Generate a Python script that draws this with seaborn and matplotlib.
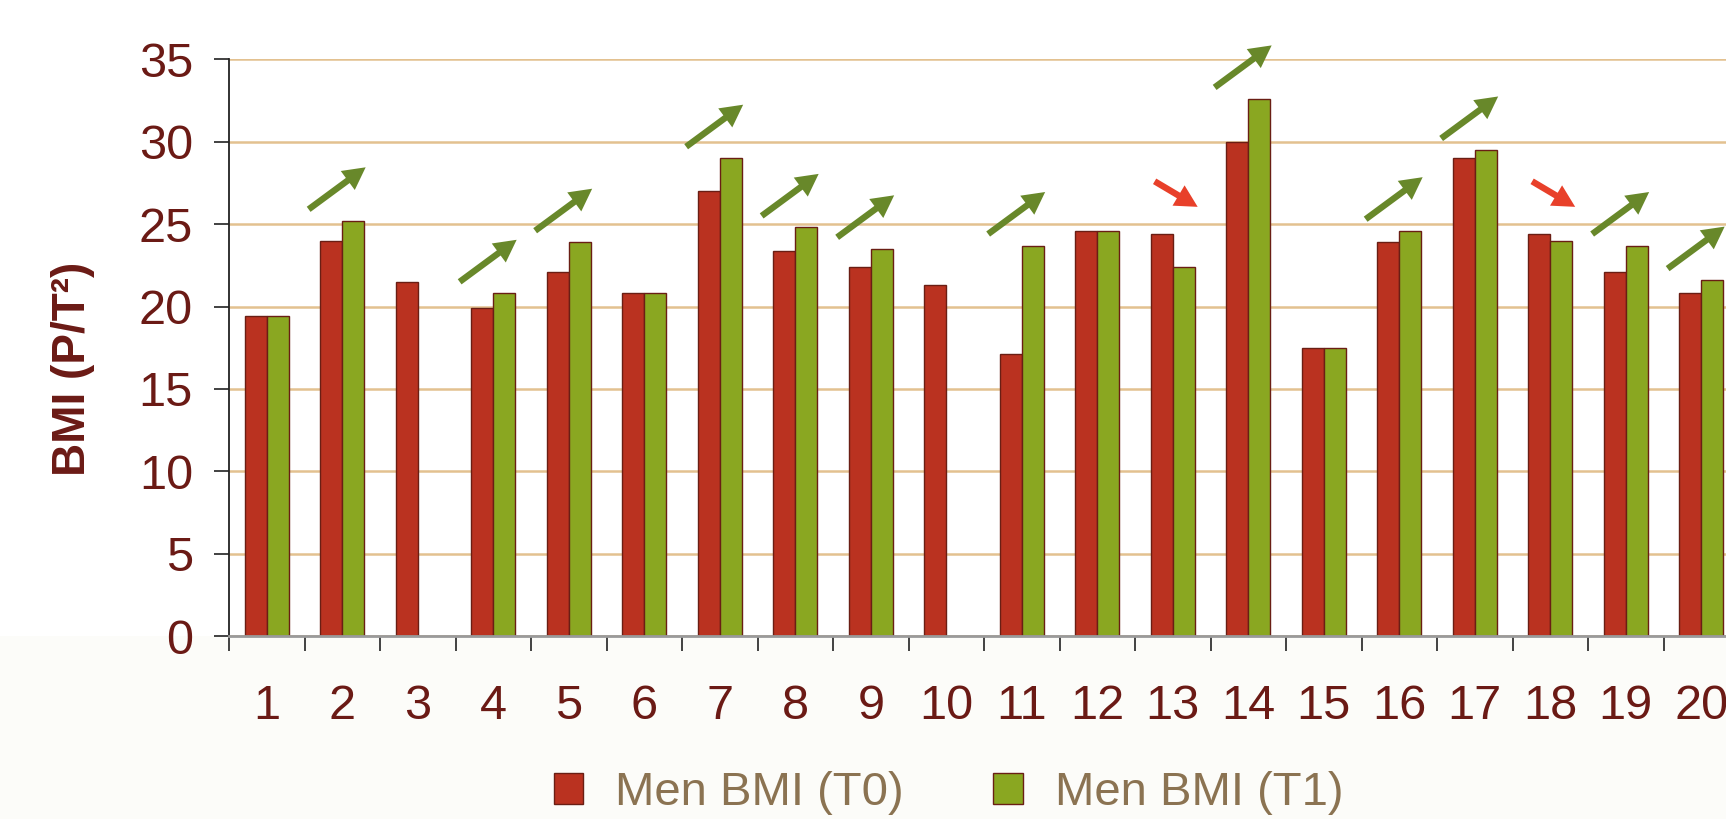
import numpy as np
import pandas as pd
import matplotlib
matplotlib.use("Agg")
import matplotlib.pyplot as plt
import seaborn as sns
from matplotlib.patches import Rectangle
from matplotlib.ticker import FixedLocator

# ---- data -------------------------------------------------------------
subjects = [str(i) for i in range(1, 21)]
bmi_t0 = [19.4, 24.0, 21.5, 19.9, 22.1, 20.8, 27.0, 23.4, 22.4, 21.3,
          17.1, 24.6, 24.4, 30.0, 17.5, 23.9, 29.0, 24.4, 22.1, 20.8]
bmi_t1 = [19.4, 25.2, np.nan, 20.8, 23.9, 20.8, 29.0, 24.8, 23.5, np.nan,
          23.7, 24.6, 22.4, 32.6, 17.5, 24.6, 29.5, 24.0, 23.7, 21.6]
series_labels = ["Men BMI (T0)", "Men BMI (T1)"]
y_ticks = [0, 5, 10, 15, 20, 25, 30, 35]
y_label = "BMI (P/T²)"

# ---- style ------------------------------------------------------------
RED = "#BA3220"
GREEN = "#8AA721"
EDGE = "#6A1E14"
MAROON = "#6B1A15"
LEGEND_TXT = "#8B7352"
GRID = "#E3C190"
UP_ARROW = "#68882A"
DOWN_ARROW = "#E8402A"
CREAM = "#FCFCF9"
TICK_FS = 35
LABEL_FS = 33
LEGEND_FS = 34

sns.set_style("white")
plt.rcParams["font.family"] = ["Liberation Sans", "DejaVu Sans"]

df = pd.DataFrame({
    "subject": subjects * 2,
    "bmi": bmi_t0 + bmi_t1,
    "series": [series_labels[0]] * len(subjects) + [series_labels[1]] * len(subjects),
})

W, H = 1726, 819
fig = plt.figure(figsize=(W / 100, H / 100), dpi=100, facecolor=CREAM)
# white upper band behind the plotting area
fig.patches.append(Rectangle((0, 1 - 636 / H), 1, 636 / H, transform=fig.transFigure,
                             facecolor="white", edgecolor="none", zorder=-1))

ax = fig.add_axes([229 / W, 1 - 636 / H, 1510 / W, 576.6 / H])
ax.set_facecolor("white")

sns.barplot(data=df, x="subject", y="bmi", hue="series", order=subjects,
            hue_order=series_labels, palette=[RED, GREEN], width=0.58,
            saturation=1, edgecolor=EDGE, linewidth=1.0, errorbar=None, ax=ax)

ax.set_xlim(-0.5, len(subjects) - 0.5)
ax.set_ylim(0, 35)
ax.set_yticks(y_ticks)
ax.yaxis.grid(True, color=GRID, linewidth=1.8)
ax.xaxis.grid(False)
ax.set_axisbelow(True)

for side in ("top", "right"):
    ax.spines[side].set_visible(False)
ax.spines["left"].set_color("#222222")
ax.spines["left"].set_linewidth(1.3)
ax.spines["bottom"].set_color("#9A9A9A")
ax.spines["bottom"].set_linewidth(2.0)

ax.tick_params(axis="y", which="major", direction="out", length=11, width=1.3,
               color="#333333", labelsize=TICK_FS, labelcolor=MAROON, pad=15, left=True)
ax.tick_params(axis="x", which="major", length=0, labelsize=TICK_FS,
               labelcolor=MAROON, pad=34.5, bottom=True)
ax.xaxis.set_minor_locator(FixedLocator(np.arange(-0.5, len(subjects), 1.0)))
ax.tick_params(axis="x", which="minor", direction="out", length=10.5, width=1.3,
               color="#333333", bottom=True)

ax.set_xlabel("")
ax.set_ylabel(y_label, fontsize=LABEL_FS, fontweight="bold", color=MAROON)
ax.yaxis.set_label_coords((73 - 229) / 1510, (636 - 369) / 576.6)
ax.yaxis.label.set_verticalalignment("center")

# change arrows above each pair
for i, (a, b) in enumerate(zip(bmi_t0, bmi_t1)):
    if np.isnan(b) or np.isclose(a, b):
        continue
    top = max(a, b)
    if b > a:
        tail, head, col = (i - 0.445, top + 0.7), (i + 0.31, top + 3.25), UP_ARROW
    else:
        tail, head, col = (i - 0.24, top + 3.2), (i + 0.33, top + 1.65), DOWN_ARROW
    ax.annotate("", xy=head, xytext=tail, annotation_clip=False,
                arrowprops=dict(width=4.6, headwidth=17, headlength=16, shrink=0,
                                facecolor=col, edgecolor=col, linewidth=0))

handles, labels = ax.get_legend_handles_labels()
if ax.get_legend() is not None:
    ax.get_legend().remove()
leg = fig.legend(handles, labels, loc="center", bbox_to_anchor=((556 + 1341) / 2 / W, 1 - 793 / H),
                 ncol=2, frameon=False, fontsize=LEGEND_FS, handlelength=0.62, handleheight=0.64,
                 handletextpad=0.68, columnspacing=1.9, borderpad=0)
for t in leg.get_texts():
    t.set_color(LEGEND_TXT)

fig.savefig("out.png", dpi=100, facecolor=fig.get_facecolor())
